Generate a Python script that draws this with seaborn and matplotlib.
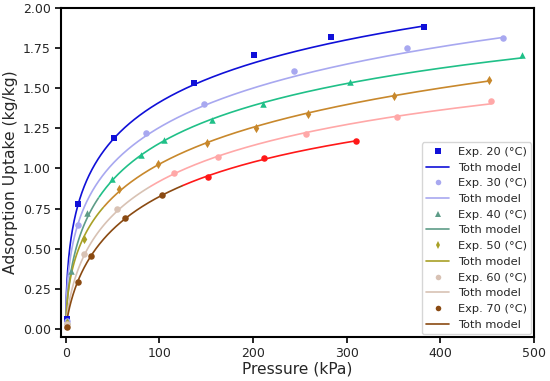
import numpy as np
import pandas as pd
import matplotlib
matplotlib.use("Agg")
import matplotlib.pyplot as plt
from matplotlib.lines import Line2D
import seaborn as sns

p20 = [1, 12.8, 51, 137, 201, 283, 382]
q20 = [0.06, 0.78, 1.19, 1.53, 1.71, 1.82, 1.88]
p30 = [1, 12.8, 86, 148, 244, 364, 467]
q30 = [0.05, 0.65, 1.22, 1.40, 1.61, 1.75, 1.81]
p40 = [1, 6, 23, 49, 80, 105, 156, 211, 303, 487]
q40 = [0.05, 0.36, 0.72, 0.935, 1.085, 1.18, 1.30, 1.40, 1.54, 1.71]
p50 = [1, 19, 57, 99, 151, 203, 259, 351, 452]
q50 = [0.04, 0.56, 0.87, 1.03, 1.16, 1.25, 1.34, 1.45, 1.55]
p60 = [1, 20, 55, 116, 163, 256, 354, 454]
q60 = [0.03, 0.47, 0.75, 0.97, 1.07, 1.215, 1.32, 1.42]
p70 = [1, 12.8, 27.5, 63, 103, 152, 212, 310]
q70 = [0.01, 0.29, 0.455, 0.69, 0.835, 0.95, 1.065, 1.17]

# Toth fit parameters: q = qm*b*P / (1 + (b*P)^t)^(1/t)
toth_qm = [4.36, 5.15, 3.10, 4.50, 2.50, 2.10]
toth_b = [0.8913, 0.7943, 0.1259, 0.2512, 0.04467, 0.02818]
toth_t = [0.250, 0.225, 0.350, 0.250, 0.425, 0.500]

temps = [20, 30, 40, 50, 60, 70]
markers = ["s", "o", "^", "d", "o", "o"]
# colour at low pressure (also used in legend) and at higher pressure
col_lo = ["#1010d8", "#a8a8f0", "#5e9c88", "#a8a026", "#d8c2b4", "#8a4a12"]
col_hi = ["#1010d8", "#a8a8f0", "#20c088", "#c8882c", "#ffa8a8", "#ff1818"]
split_p = [0, 0, 35, 40, 90, 125]

pressures = [p20, p30, p40, p50, p60, p70]
uptakes = [q20, q30, q40, q50, q60, q70]

sns.set_style("ticks")
plt.rcParams["font.family"] = ["DejaVu Sans"]

fig, ax = plt.subplots(figsize=(5.5, 3.81), dpi=100)
fig.subplots_adjust(left=0.111, right=0.971, top=0.979, bottom=0.1155)

handles = []
labels = []
for i, T in enumerate(temps):
    pts = pd.DataFrame({"P": pressures[i], "q": uptakes[i]})
    pmax = pts["P"].max()
    grid = np.linspace(0, pmax, 600)
    qm, b, t = toth_qm[i], toth_b[i], toth_t[i]
    model = pd.DataFrame({"P": grid,
                          "q": qm * b * grid / (1 + (b * grid) ** t) ** (1 / t)})
    lo = model[model["P"] <= split_p[i]]
    hi = model[model["P"] >= split_p[i]]
    if len(lo) > 1:
        sns.lineplot(data=lo, x="P", y="q", color=col_lo[i], lw=1.2, ax=ax,
                     estimator=None, sort=False)
    sns.lineplot(data=hi, x="P", y="q", color=col_hi[i], lw=1.2, ax=ax,
                 estimator=None, sort=False)
    lo_pts = pts[pts["P"] <= split_p[i]]
    hi_pts = pts[pts["P"] > split_p[i]]
    for sub, c in ((lo_pts, col_lo[i]), (hi_pts, col_hi[i])):
        if len(sub):
            sns.scatterplot(data=sub, x="P", y="q", color=c, marker=markers[i],
                            s=22, linewidth=0, ax=ax, zorder=3)
    handles.append(Line2D([], [], ls="none", marker=markers[i], color=col_lo[i],
                          markersize=4, markeredgewidth=0))
    labels.append(f"Exp. {T} (°C)")
    handles.append(Line2D([], [], color=col_lo[i], lw=1.2))
    labels.append("Toth model")

ax.set_xlim(-5, 500)
ax.set_ylim(-0.05, 2.0)
ax.set_yticks(np.arange(0, 2.01, 0.25))
ax.set_yticklabels([f"{v:.2f}" for v in np.arange(0, 2.01, 0.25)])
ax.set_xticks([0, 100, 200, 300, 400, 500])
ax.tick_params(labelsize=9, width=1.2, length=4, color="black")
for s in ax.spines.values():
    s.set_linewidth(1.5)
    s.set_color("black")
ax.set_xlabel("Pressure (kPa)", fontsize=11.2, labelpad=1)
ax.set_ylabel("Adsorption Uptake (kg/kg)", fontsize=11.2, labelpad=3)
ax.legend(handles, labels, loc="lower right", fontsize=8.2, handlelength=2.0,
          labelspacing=0.5, borderpad=0.4, handletextpad=0.75,
          borderaxespad=0.25)

fig.savefig("out.png")
